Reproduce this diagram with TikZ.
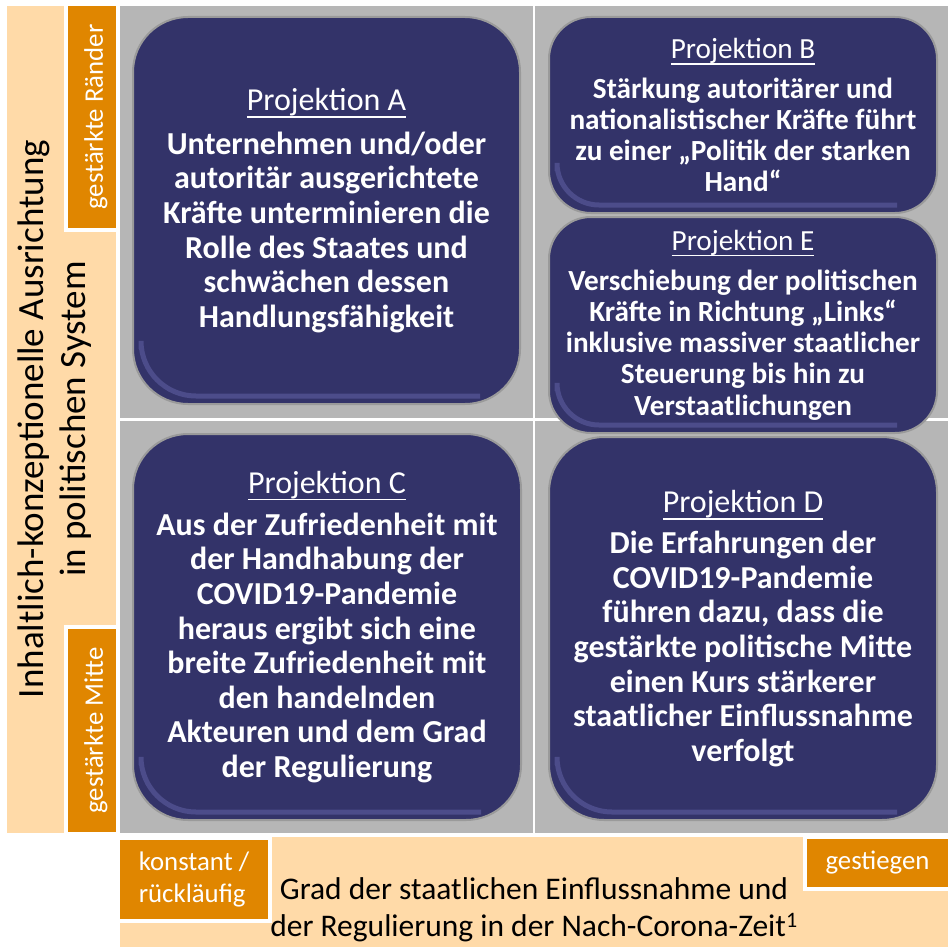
\documentclass[tikz,border=0pt]{standalone}
\usepackage{fontspec}
\setmainfont{Carlito}
\usepackage{xcolor}

\definecolor{feldgrau}{HTML}{B6B6B6}
\definecolor{achsbeige}{HTML}{FFDAA8}
\definecolor{achsorange}{HTML}{E08600}
\definecolor{projblau}{HTML}{333369}
\definecolor{projrand}{HTML}{9A9A9A}
\definecolor{projglanz}{HTML}{4C4C8A}

\newcommand{\projtitel}[1]{\setbox0\hbox{\mdseries #1}\rlap{\rule[-0.22em]{\wd0}{0.05em}}\box0}

\begin{document}
\begin{tikzpicture}[x=1pt, y=-1pt,
        flaeche/.style={fill=#1, draw=none, inner sep=0pt, outer sep=0pt},
        achsbox/.style={fill=achsorange, draw=white, line width=4pt, text=white, inner sep=0pt, align=left, font=\fontsize{26.8}{32}\selectfont},
        achshoch/.style={achsbox, rotate=90, text height=27pt, text depth=5.3pt},
        projbox/.style={fill=projblau, draw=projrand, line width=2pt, text=white, inner sep=0pt, align=center,
            rounded corners=#1, font=\fontsize{32}{34.6}\selectfont\bfseries,
            path picture={\draw[projglanz, line width=5pt, rounded corners=#1]
                ([shift={(8pt,#1)}]path picture bounding box.south west) -- ([shift={(8pt,8pt)}]path picture bounding box.south west)
                -- ([shift={(-40pt,8pt)}]path picture bounding box.south east);}},
        projbox/.default=55pt,
        projklein/.style={projbox=42pt, font=\fontsize{29.2}{31.3}\selectfont\bfseries}]
        \path[use as bounding box, fill=white] (0,0) rectangle (952,947);

        % Flaechen
        \node[flaeche=feldgrau, minimum width=828pt, minimum height=827pt] (feld) at (534,419.5) {};
        \node[flaeche=achsbeige, minimum width=109pt, minimum height=827pt] (achsey) at (61.5,419.5) {};
        \node[flaeche=achsbeige, minimum width=828pt, minimum height=110pt] (achsex) at (534,892) {};
        \draw[white, line width=2.5pt] (feld.north) -- (feld.south);
        \draw[white, line width=2.5pt] (feld.west) -- (feld.east);

        % Achsen
        \node[rotate=90, align=center, inner sep=0pt, font=\fontsize{37}{42}\selectfont] (achsytext) at (54.5,419) {Inhaltlich-konzeptionelle Ausrichtung\\in politischen System};
        \node[align=center, inner sep=0pt, font=\fontsize{31.5}{37}\selectfont] (achsxtext) at (534,910) {Grad der staatlichen Einflussnahme und\\der Regulierung in der Nach-Corona-Zeit\textsuperscript{1}};
        \node[achshoch, minimum width=226pt, minimum height=52pt] (raender) at (92,117) {gestärkte Ränder};
        \node[achshoch, minimum width=207pt, minimum height=52pt] (mitte) at (92,730.5) {gestärkte Mitte};
        \node[achsbox, minimum width=152pt, minimum height=83pt] (konstant) at (194,879) {konstant /\\rückläufig};
        \node[achsbox, minimum width=145pt, minimum height=52pt] (gestiegen) at (877.5,863) {gestiegen};

        % Projektionen
        \node[projbox, minimum width=387pt, minimum height=387pt] (projA) at (326.5,210.5) {\projtitel{Projektion A}\\[9pt]
            Unternehmen und/oder\\autoritär ausgerichtete\\Kräfte unterminieren die\\Rolle des Staates und\\schwächen dessen\\Handlungsfähigkeit};
        \node[projklein, minimum width=388pt, minimum height=196pt] (projB) at (743,115) {\projtitel{Projektion B}\\[8.7pt]
            Stärkung autoritärer und\\nationalistischer Kräfte führt\\zu einer „Politik der starken\\Hand“};
        \node[projklein, minimum width=388pt, minimum height=216pt] (projE) at (743,325) {\projtitel{Projektion E}\\[8.7pt]
            Verschiebung der politischen\\Kräfte in Richtung „Links“\\inklusive massiver staatlicher\\Steuerung bis hin zu\\Verstaatlichungen};
        \node[projbox, minimum width=388pt, minimum height=386pt] (projC) at (327,627) {\projtitel{Projektion C}\\[7.5pt]
            Aus der Zufriedenheit mit\\der Handhabung der\\COVID19-Pandemie\\heraus ergibt sich eine\\breite Zufriedenheit mit\\den handelnden\\Akteuren und dem Grad\\der Regulierung};
        \node[projbox, minimum width=388pt, minimum height=383pt] (projD) at (743,628.5) {\projtitel{Projektion D}\\[6.5pt]
            Die Erfahrungen der\\COVID19-Pandemie\\führen dazu, dass die\\gestärkte politische Mitte\\einen Kurs stärkerer\\staatlicher Einflussnahme\\verfolgt};
    \end{tikzpicture}
\end{document}
